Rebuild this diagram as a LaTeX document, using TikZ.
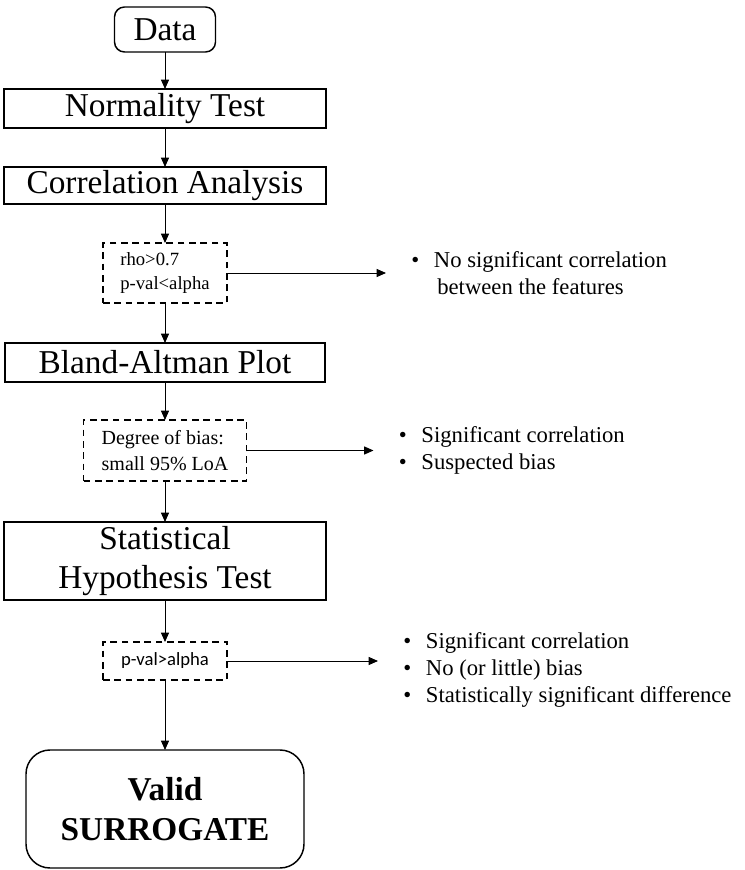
\documentclass[tikz,border=0pt]{standalone}
\usepackage{fontspec}
\setmainfont{Liberation Serif}
\newfontfamily\calibrifont{Carlito}
\usetikzlibrary{positioning,arrows.meta}

\begin{document}
\begin{tikzpicture}[
	bstyle/.style={draw, line width=1.1pt, inner sep=0pt, outer sep=0pt, align=center,
	font=\fontsize{25}{29}\selectfont},
	dstyle/.style={draw, dash pattern=on 5pt off 3.5pt, line width=1pt,
	inner sep=0pt, outer sep=0pt, align=left},
	nstyle/.style={inner xsep=19pt, inner ysep=0pt, outer sep=0pt, align=left,
	font=\fontsize{17}{20}\selectfont},
	arr/.style={-{Triangle[length=7pt,width=6pt]}, line width=0.7pt}
	]
	\useasboundingbox (0,0) rectangle (558pt,-652.5pt);
	\node[bstyle, rounded corners=7.5pt, minimum width=75.75pt,
	minimum height=33.75pt, anchor=north] (1) at (123.75pt,-5.25pt) {Data};
	\node[bstyle, minimum width=241.5pt, minimum height=29.25pt] (2) [below=27.75pt of 1] {Normality Test};
	\node[bstyle, minimum width=241.5pt, minimum height=27.75pt] (3) [below=29.25pt of 2] {Correlation Analysis};
	\node[dstyle, minimum width=93pt, minimum height=45pt,
	font=\fontsize{14}{18}\selectfont] (4) [below=29.25pt of 3] {rho>0.7\\p-val<alpha};
	\node[bstyle, minimum width=240pt, minimum height=29.25pt] (5) [below=30pt of 4] {Bland-Altman Plot};
	\node[dstyle, minimum width=122.25pt, minimum height=45.75pt,
	font=\fontsize{15}{19}\selectfont] (6) [below=28.5pt of 5] {Degree of bias:\\small 95\% LoA};
	\node[bstyle, minimum width=241.5pt, minimum height=58.5pt] (7) [below=30.75pt of 6] {Statistical\\Hypothesis Test};
	\node[dstyle, minimum width=93pt, minimum height=28.5pt,
	font=\calibrifont\fontsize{14}{17}\selectfont] (8) [below=31.5pt of 7] {p-val>alpha};
	\node[bstyle, rounded corners=18pt, minimum width=208.5pt, minimum height=88.5pt,
	font=\fontsize{25}{30}\selectfont\bfseries] (9) [below=52.5pt of 8] {Valid\\SURROGATE};
	
	\node[nstyle] (10) [right=119.25pt of 4] {\makebox[17pt][l]{\textbullet}No significant correlation\\\hspace{19.5pt}between the features};
	\node[nstyle] (11) [right=95.25pt of 6] {\makebox[17pt][l]{\textbullet}Significant correlation\\\makebox[17pt][l]{\textbullet}Suspected bias};
	\node[nstyle] (12) [right=113.25pt of 8, yshift=-6.75pt] {\makebox[17pt][l]{\textbullet}Significant correlation\\\makebox[17pt][l]{\textbullet}No (or little) bias\\\makebox[17pt][l]{\textbullet}Statistically significant difference};
	
	\draw[arr] (1.south) to (2.north);
	\draw[arr] (2.south) to (3.north);
	\draw[arr] (3.south) to (4.north);
	\draw[arr] (4.south) to (5.north);
	\draw[arr] (5.south) to (6.north);
	\draw[arr] (6.south) to (7.north);
	\draw[arr] (7.south) to (8.north);
	\draw[arr] (8.south) to (9.north);
	\draw[arr] (4.east) to (4.east -| 10.west);
	\draw[arr] (6.east) to (6.east -| 11.west);
	\draw[arr] (8.east) to (8.east -| 12.west);
\end{tikzpicture}
\end{document}
